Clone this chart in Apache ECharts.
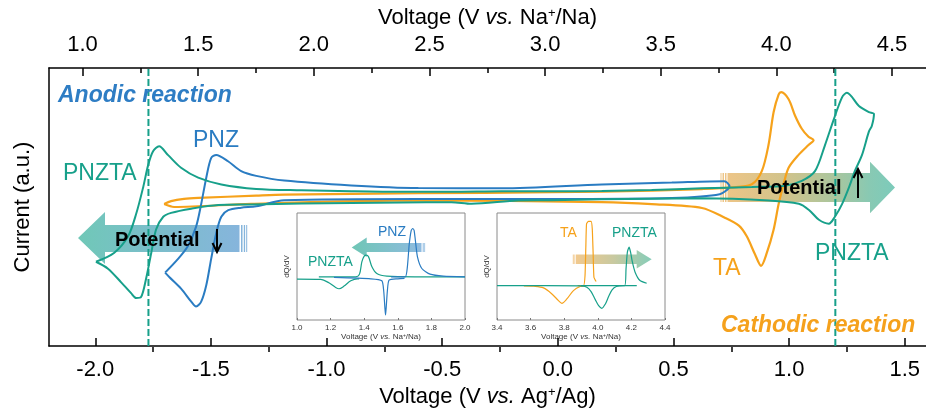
<!DOCTYPE html>
<html><head><meta charset="utf-8">
<script src="https://cdn.jsdelivr.net/npm/echarts@6/dist/echarts.min.js"></script>
<style>html,body{margin:0;padding:0;background:#fff}#c{width:926px;height:413px}</style>
</head><body><div id="c"></div>
<script>
// ---------- tick labels ----------
const bottomMajor = [-2.0, -1.5, -1.0, -0.5, 0.0, 0.5, 1.0, 1.5];
const bottomMinor = [-1.75, -1.25, -0.75, -0.25, 0.25, 0.75, 1.25];
const topMajor = [1.0, 1.5, 2.0, 2.5, 3.0, 3.5, 4.0, 4.5];
const topMinor = [1.25, 1.75, 2.25, 2.75, 3.25, 3.75, 4.25];
const insetATicks = [1.0, 1.2, 1.4, 1.6, 1.8, 2.0];
const insetBTicks = [3.4, 3.6, 3.8, 4.0, 4.2, 4.4];
const guideLines = [-1.77, 1.20];

// ---------- main CV curves: [V vs Ag+/Ag, current a.u.] ----------
const pnztaCV = [
 [-1.997,-0.394],[-1.919,-0.331],[-1.858,-0.211],[-1.823,-0.049],[-1.793,0.141],[-1.771,0.303],
 [-1.750,0.401],[-1.724,0.437],[-1.685,0.373],[-1.629,0.282],[-1.555,0.211],[-1.455,0.162],
 [-1.304,0.130],[-1.109,0.120],[-0.893,0.113],[-0.676,0.109],[-0.460,0.109],[-0.243,0.113],
 [-0.027,0.113],[0.190,0.116],[0.406,0.122],[0.623,0.134],[0.839,0.144],[0.982,0.153],
 [1.055,0.188],[1.112,0.258],[1.155,0.444],[1.194,0.634],[1.229,0.789],[1.250,0.822],
 [1.302,0.727],[1.345,0.683],[1.367,0.669],[1.358,0.585],[1.345,0.542],[1.315,0.373],
 [1.285,0.261],[1.259,0.141],[1.229,0.021],[1.198,-0.070],[1.172,-0.120],[1.129,-0.092],
 [1.086,-0.021],[1.042,0.023],[0.913,0.047],[0.623,0.063],[0.406,0.060],[0.190,0.056],
 [-0.027,0.049],[-0.170,0.047],[-0.373,0.023],[-0.460,0.035],[-0.676,0.032],[-1.109,0.025],
 [-1.326,0.018],[-1.468,0.014],[-1.585,-0.012],[-1.672,-0.042],[-1.706,-0.070],[-1.737,-0.162],
 [-1.758,-0.331],[-1.780,-0.514],[-1.802,-0.648],[-1.823,-0.655],[-1.845,-0.620],[-1.888,-0.542],
 [-1.945,-0.444],[-1.997,-0.394]
];
const pnzCV = [
 [-1.698,-0.472],[-1.643,-0.375],[-1.600,-0.282],[-1.564,-0.141],[-1.542,0.021],[-1.520,0.211],
 [-1.499,0.352],[-1.477,0.375],[-1.426,0.329],[-1.369,0.258],[-1.304,0.224],[-1.183,0.190],
 [-0.893,0.155],[-0.603,0.136],[-0.243,0.134],[0.190,0.162],[0.493,0.176],[0.720,0.186],
 [0.742,0.150],[0.700,0.092],[0.493,0.065],[-0.027,0.058],[-0.603,0.058],[-1.183,0.049],
 [-1.304,0.005],[-1.369,-0.005],[-1.425,-0.023],[-1.455,-0.070],[-1.477,-0.188],[-1.499,-0.375],
 [-1.520,-0.563],[-1.542,-0.681],[-1.564,-0.716],[-1.585,-0.681],[-1.629,-0.587],[-1.679,-0.505],
 [-1.698,-0.472]
];
const taCV = [
 [-1.702,0.021],[-1.672,0.042],[-1.616,0.058],[-1.555,0.065],[-1.304,0.082],[-1.183,0.089],
 [-0.603,0.099],[-0.027,0.106],[0.406,0.118],[0.623,0.129],[0.752,0.141],[0.839,0.164],
 [0.882,0.258],[0.911,0.446],[0.933,0.681],[0.955,0.810],[0.966,0.826],[0.998,0.775],
 [1.026,0.657],[1.055,0.563],[1.084,0.505],[1.106,0.481],[1.084,0.446],[1.041,0.375],
 [0.998,0.282],[0.976,0.164],[0.955,0.023],[0.933,-0.164],[0.904,-0.329],[0.879,-0.423],
 [0.852,-0.338],[0.817,-0.211],[0.783,-0.134],[0.722,-0.077],[0.623,-0.007],[0.406,0.021],
 [0.190,0.035],[-0.603,0.047],[-1.326,0.023],[-1.659,0.000],[-1.702,0.021]
];

// ---------- inset A (1.0 - 2.0 V vs Na+/Na) dQ/dV ----------
const pnztaDisA = [[1.00,-0.05],[1.14,-0.06],[1.19,-0.16],[1.23,-0.30],[1.25,-0.34],[1.28,-0.26],[1.32,-0.10],[1.36,-0.04],[1.37,-0.04]];
const pnztaChgA = [[1.13,0.02],[1.35,0.02],[1.372,0.10],[1.386,0.47],[1.40,0.64],[1.412,0.67],[1.426,0.62],[1.446,0.32],[1.475,0.12],[1.535,0.04],[1.70,0.02],[2.0,0.02]];
const pnzDisA = [[1.22,0.0],[1.44,-0.04],[1.505,-0.10],[1.516,-0.40],[1.523,-0.90],[1.527,-1.13],[1.531,-0.90],[1.538,-0.40],[1.548,-0.08],[1.60,-0.04],[1.64,-0.03]];
const pnzChgA = [[1.56,0.02],[1.644,0.02],[1.657,0.32],[1.668,1.0],[1.68,1.42],[1.689,1.47],[1.697,1.42],[1.705,1.1],[1.717,0.62],[1.743,0.27],[1.792,0.10],[1.871,0.04],[2.0,0.02]];

// ---------- inset B (3.4 - 4.4 V vs Na+/Na) dQ/dV ----------
const taDisB = [[3.56,-0.01],[3.62,-0.02],[3.677,-0.07],[3.727,-0.25],[3.766,-0.45],[3.786,-0.53],[3.816,-0.40],[3.855,-0.15],[3.895,-0.03],[3.935,0.0]];
const taChgB = [[3.88,0.0],[3.915,0.0],[3.924,0.3],[3.929,1.2],[3.933,1.85],[3.945,1.92],[3.96,1.92],[3.967,1.7],[3.972,1.0],[3.977,0.25],[3.99,0.12]];
const pnztaDisB = [[3.4,0.0],[3.9,-0.01],[3.935,-0.05],[3.96,-0.18],[3.985,-0.42],[4.005,-0.60],[4.024,-0.68],[4.045,-0.55],[4.065,-0.32],[4.085,-0.13],[4.11,-0.03],[4.152,0.0],[4.232,0.0]];
const pnztaChgB = [[3.9,0.0],[4.16,0.0],[4.168,0.5],[4.176,1.0],[4.186,1.15],[4.195,1.0],[4.205,0.72],[4.222,0.40],[4.251,0.15],[4.291,0.07]];

// ---------- styles ----------
const FONT = "'Liberation Sans', Arial, sans-serif";
const TEAL = '#17a08a', BLUE = '#2a7cc2', ORANGE = '#f6a21b';
const botMin = -2.2, botMax = 1.592;
const topMin = 0.855, topMax = 4.647;

function richName(fs, sfs){
  return {fontSize: fs, color:'#000', fontFamily: FONT,
    rich:{ i:{fontStyle:'italic', fontSize:fs, color:'#000', fontFamily:FONT},
           s:{fontSize:sfs, verticalAlign:'top', color:'#000', fontFamily:FONT} }};
}
function mainX(pos, min, max, major, nameStr, margin, gap){
  return {type:'value', gridIndex:0, position:pos, min:min, max:max,
    axisLine:{show:true, onZero:false, lineStyle:{color:'#000', width:1.5}},
    axisTick:{show:true, inside:true, length:8, customValues:major, lineStyle:{color:'#000', width:1.5}},
    axisLabel:{customValues:major, formatter:v=>v.toFixed(1), fontSize:22, color:'#000', fontFamily:FONT, margin:margin},
    splitLine:{show:false}, name:nameStr, nameLocation:'middle', nameGap:gap,
    nameTextStyle: richName(22, 13)};
}
function minorX(pos, min, max, minor){
  return {type:'value', gridIndex:1, position:pos, min:min, max:max,
    axisLine:{show:false, onZero:false}, axisLabel:{show:false}, splitLine:{show:false},
    axisTick:{show:true, inside:true, length:5, customValues:minor, lineStyle:{color:'#000', width:1.5}}};
}
function insetX(g, min, max, ticks){
  return {type:'value', gridIndex:g, min:min, max:max,
    axisLine:{show:false, onZero:false}, splitLine:{show:false},
    axisTick:{show:true, inside:true, length:2, customValues:ticks, lineStyle:{color:'#777', width:1}},
    axisLabel:{customValues:ticks, formatter:v=>v.toFixed(1), fontSize:8, color:'#333', fontFamily:FONT, margin:4},
    name:'Voltage (V {i|vs.} Na{s|+}/Na)', nameLocation:'middle', nameGap:13,
    nameTextStyle:{fontSize:8, color:'#333', fontFamily:FONT,
      rich:{i:{fontStyle:'italic', fontSize:8, color:'#333', fontFamily:FONT}, s:{fontSize:5, verticalAlign:'top', color:'#333', fontFamily:FONT}}}};
}
function insetY(g, min, max){
  return {type:'value', gridIndex:g, min:min, max:max,
    axisLine:{show:false, onZero:false}, axisTick:{show:false}, axisLabel:{show:false}, splitLine:{show:false},
    name:'dQ/dV', nameLocation:'middle', nameGap:6, nameTextStyle:{fontSize:8, color:'#333', fontFamily:FONT}};
}
function curve(data, color, xi, yi, w, sm){
  return {type:'line', xAxisIndex:xi, yAxisIndex:yi, data:data, symbol:'none', smooth:sm,
    lineStyle:{color:color, width:w}, silent:true, z:3, animation:false};
}
function txt(t, x, y, color, fs, weight, style){
  return {type:'text', z:20, style:{text:t, x:x, y:y, fill:color, fontSize:fs, fontWeight:weight||'normal',
    fontStyle:style||'normal', fontFamily:FONT, align:'left', verticalAlign:'middle'}};
}
function grad(stops){
  return new echarts.graphic.LinearGradient(0,0,1,0, stops.map((c,i)=>({offset:c[0], color:c[1]})));
}
function poly(points, fill){ return {type:'polygon', z:1, shape:{points:points}, style:{fill:fill}}; }
function rect(x,y,w,h,fill){ return {type:'rect', z:1, shape:{x:x,y:y,width:w,height:h}, style:{fill:fill}}; }
function seg(pts, w){ return {type:'polyline', z:20, shape:{points:pts}, style:{stroke:'#000', lineWidth:w, fill:null}}; }

const series = [
  curve(taCV, ORANGE, 0, 0, 2.2, 0.3),
  curve(pnzCV, BLUE, 0, 0, 2, 0.3),
  curve(pnztaCV, TEAL, 0, 0, 2, 0.3)
];
guideLines.forEach(v => series.push({type:'line', xAxisIndex:0, yAxisIndex:0, data:[[v,-1],[v,1]], symbol:'none',
  lineStyle:{color:TEAL, width:2, type:[7,3]}, silent:true, z:2, animation:false}));
series.push(curve(pnztaDisA, TEAL, 4, 2, 1.2, 0.3));
series.push(curve(pnztaChgA, TEAL, 4, 2, 1.2, 0.3));
series.push(curve(pnzDisA, BLUE, 4, 2, 1.2, 0.2));
series.push(curve(pnzChgA, BLUE, 4, 2, 1.2, 0.2));
series.push(curve(taDisB, ORANGE, 5, 3, 1.2, 0.3));
series.push(curve(taChgB, ORANGE, 5, 3, 1.2, 0.15));
series.push(curve(pnztaDisB, TEAL, 5, 3, 1.2, 0.3));
series.push(curve(pnztaChgB, TEAL, 5, 3, 1.2, 0.2));

const gfx = [
  // left big arrow
  poly([[78,238],[105,212],[105,225],[239.5,225],[239.5,252],[105,252],[105,264]],
       grad([[0,'#70c8b7'],[0.35,'#78c0c6'],[1,'#86b5dc']])),
  rect(241,225,1.5,27,'#86b5dc'), rect(243.8,225,1.3,27,'#86b5dc'), rect(246.2,225,1,27,'#86b5dc'),
  // right big arrow
  poly([[727.5,173],[870,173],[870,161.7],[895,187.5],[870,213.3],[870,202],[727.5,202]],
       grad([[0,'#edc587'],[0.35,'#d0c38b'],[0.65,'#a8c69f'],[0.85,'#88c9b3'],[1,'#7ccbbb']])),
  rect(720.5,173,1,29,'#edc587'), rect(722.5,173,1.5,29,'#edc587'), rect(725,173,1.5,29,'#edc587'),
  // inset A arrow
  poly([[351.7,247.5],[366.7,237.5],[366.7,243],[421.5,243],[421.5,252],[366.7,252],[366.7,257]],
       grad([[0,'#6fc6b5'],[1,'#8fbbe0']])),
  rect(422.7,243,1,9,'#8fbbe0'), rect(424.3,243,0.8,9,'#8fbbe0'),
  // inset B arrow
  poly([[576,254.5],[636.7,254.5],[636.7,250],[651.7,259.3],[636.7,268.5],[636.7,264],[576,264]],
       grad([[0,'#f1c98e'],[0.5,'#c8c9a0'],[1,'#86cdb9']])),
  rect(572.8,254.5,1,9.5,'#f1c98e'), rect(574.4,254.5,0.9,9.5,'#f1c98e'),
  // texts
  txt('Anodic reaction', 58, 96, '#2e7dc4', 23, 'bold', 'italic'),
  txt('Cathodic reaction', 721, 326, '#f5a11c', 23, 'bold', 'italic'),
  txt('PNZTA', 63, 174, TEAL, 23),
  txt('PNZ', 193, 141, BLUE, 23),
  txt('TA', 713, 269, ORANGE, 23),
  txt('PNZTA', 815, 254, TEAL, 23),
  txt('Potential', 115, 240, '#000', 20, 'bold'),
  txt('Potential', 757, 188, '#000', 20, 'bold'),
  txt('PNZ', 378, 232, BLUE, 14),
  txt('PNZTA', 308, 262, TEAL, 14),
  txt('TA', 560, 233, ORANGE, 14),
  txt('PNZTA', 612, 233, TEAL, 14),
  // small arrows
  seg([[217,229],[217,252]], 2), seg([[212.5,243],[217,252],[221.5,243]], 2),
  seg([[858,198],[858,169]], 2), seg([[853.5,178],[858,169],[862.5,178]], 2)
];

const option = {
  animation:false,
  backgroundColor:'#fff',
  grid:[
    {left:49, right:0, top:68, bottom:61},
    {left:49, right:0, top:68, bottom:61},
    {left:297, top:213, width:168, height:107, show:true, borderColor:'#8a8a8a', borderWidth:1, backgroundColor:'#fff'},
    {left:497, top:213, width:168, height:107, show:true, borderColor:'#8a8a8a', borderWidth:1, backgroundColor:'#fff'}
  ],
  xAxis:[
    mainX('bottom', botMin, botMax, bottomMajor, 'Voltage (V {i|vs.} Ag{s|+}/Ag)', 13, 40),
    mainX('top', topMin, topMax, topMajor, 'Voltage (V {i|vs.} Na{s|+}/Na)', 12, 39),
    minorX('bottom', botMin, botMax, bottomMinor),
    minorX('top', topMin, topMax, topMinor),
    insetX(2, 1.0, 2.0, insetATicks),
    insetX(3, 3.4, 4.4, insetBTicks)
  ],
  yAxis:[
    {type:'value', gridIndex:0, min:-1, max:1, axisLine:{show:true, onZero:false, lineStyle:{color:'#000', width:1.5}},
     axisTick:{show:false}, axisLabel:{show:false}, splitLine:{show:false},
     name:'Current (a.u.)', nameLocation:'middle', nameGap:15, nameTextStyle:{fontSize:22, color:'#000', fontFamily:FONT}},
    {type:'value', gridIndex:1, min:-1, max:1, show:false, axisLine:{onZero:false}},
    insetY(2, -1.28, 1.94),
    insetY(3, -1.03, 2.17)
  ],
  series: series,
  graphic:{elements:gfx}
};
const chart = echarts.init(document.getElementById('c'));
chart.setOption(option);
</script></body></html>
